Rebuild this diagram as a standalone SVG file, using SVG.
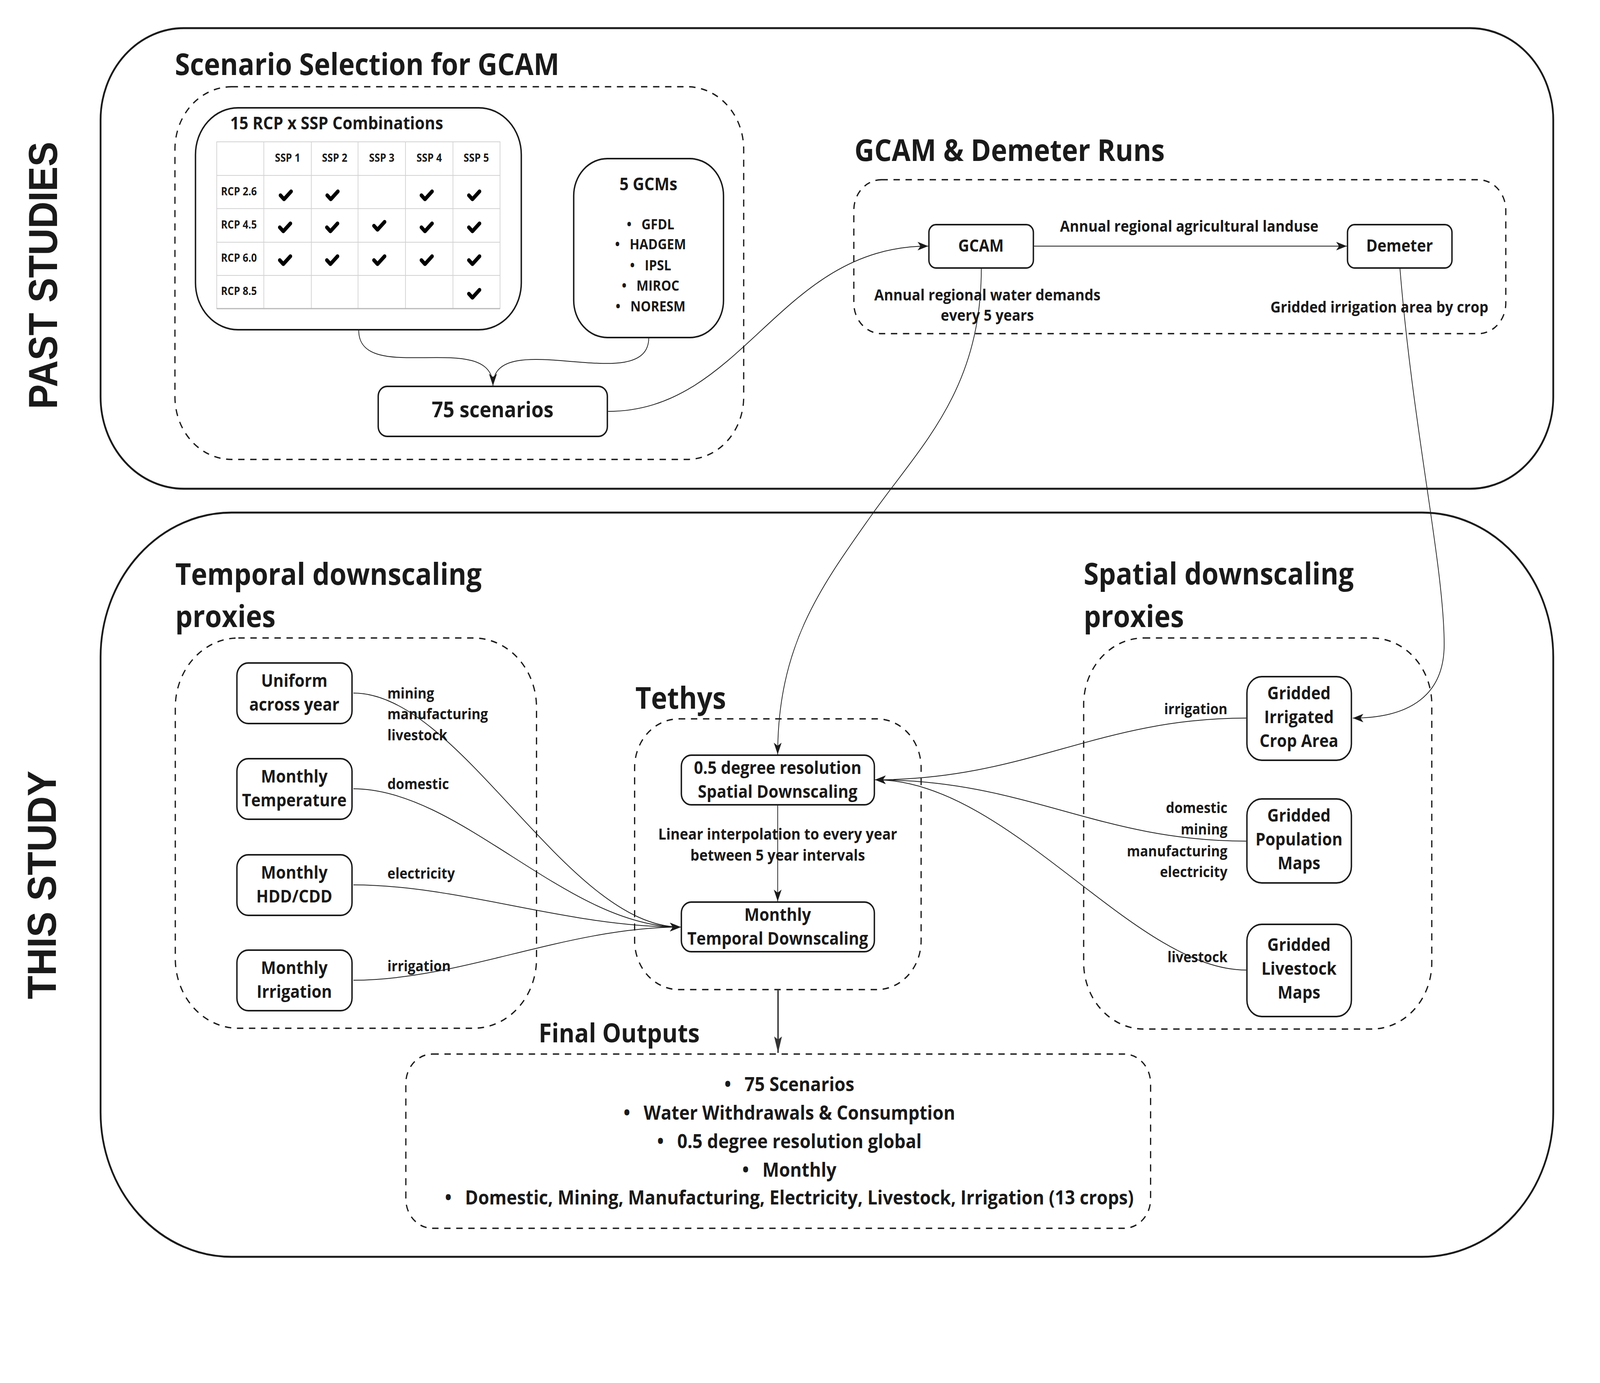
<svg xmlns="http://www.w3.org/2000/svg" xmlns:xlink="http://www.w3.org/1999/xlink" width="4518" height="3540" viewBox="0 0 4518 3540" preserveAspectRatio="none" style="max-width:100%">
<style>
.t{font-family:'Open Sans','Liberation Sans',sans-serif;font-weight:700;fill:#1a1a1a}
.title{font-size:77px}
.node{font-size:45px;text-anchor:middle}
.lbl{font-size:38px}
.elbl{font-size:40px;text-anchor:middle}
.hdr{font-size:28px;text-anchor:middle}
.rl{font-size:28px}
.fo{font-size:50px;text-anchor:middle}
.gcm{font-size:36px;text-anchor:middle}
.side{font-family:'Liberation Sans',Arial,sans-serif;font-weight:700;font-size:114px;text-anchor:middle;fill:#1a1a1a}
.outer{fill:none;stroke:#1a1a1a;stroke-width:5}
.dash{fill:none;stroke:#1a1a1a;stroke-width:3.5;stroke-dasharray:18 16}
.box{fill:#fff;stroke:#1a1a1a;stroke-width:4}
.grid{stroke:#d2d2d2;stroke-width:2;fill:none}
.conn{fill:none;stroke:#1a1a1a;stroke-width:2}
.chk{fill:none;stroke:#000;stroke-width:10;stroke-linecap:round;stroke-linejoin:round}
</style>
<defs>
<marker id="arr" markerUnits="userSpaceOnUse" markerWidth="32" markerHeight="24" refX="30" refY="12" orient="auto">
<path d="M0,1 L30,12 L0,23 L8,12 Z" fill="#1a1a1a"/>
</marker>
<marker id="arrB" markerUnits="userSpaceOnUse" markerWidth="24" markerHeight="44" refX="12" refY="42" orient="0">
<path d="M1,0 L12,42 L23,0 L12,8 Z" fill="#333"/>
</marker>
<path id="ck" class="chk" d="M-10,-10 L0,0 L20,-20"/>
</defs>
<rect width="4518" height="3540" fill="#fff"/>

<g id="past-studies">
<rect class="outer" x="284" y="72" width="4102" height="1179" rx="235"/>
<text class="side" transform="translate(161,705) rotate(-90)" textLength="684" lengthAdjust="spacingAndGlyphs">PAST STUDIES</text>
</g>
<g id="this-study">
<rect class="outer" x="284" y="1312" width="4102" height="1905" rx="370"/>
<text class="side" transform="translate(158,2265) rotate(-90)" textLength="585" lengthAdjust="spacingAndGlyphs">THIS STUDY</text>
</g>

<g id="scenario-selection">
<text class="t title" x="494" y="192">Scenario Selection for GCAM</text>
<rect class="dash" x="494" y="222" width="1606" height="954" rx="160"/>
</g>

<g id="rcp-ssp-table">
<rect class="box" x="552" y="276" width="920" height="568" rx="120"/>
<text class="t" x="650" y="331" font-size="45">15 RCP x SSP Combinations</text>
<rect x="612" y="363" width="800" height="427" fill="#fff"/>
<path class="grid" d="M612,363 H1412 V790 H612 Z M745,363 V790 M879,363 V790 M1011,363 V790 M1145,363 V790 M1279,363 V790 M612,449 H1412 M612,534 H1412 M612,620 H1412 M612,705 H1412"/>
<path d="M612,790 H1412" stroke="#b8b8b8" stroke-width="3"/>
<text class="t hdr" x="812" y="414">SSP 1</text>
<text class="t hdr" x="945" y="414">SSP 2</text>
<text class="t hdr" x="1078" y="414">SSP 3</text>
<text class="t hdr" x="1212" y="414">SSP 4</text>
<text class="t hdr" x="1345" y="414">SSP 5</text>
<text class="t rl" x="624" y="500">RCP 2.6</text>
<text class="t rl" x="624" y="585">RCP 4.5</text>
<text class="t rl" x="624" y="670">RCP 6.0</text>
<text class="t rl" x="624" y="755">RCP 8.5</text>
<use xlink:href="#ck" x="802" y="510"/>
<use xlink:href="#ck" x="934" y="510"/>
<use xlink:href="#ck" x="1200" y="510"/>
<use xlink:href="#ck" x="1334" y="510"/>
<use xlink:href="#ck" x="800" y="592"/>
<use xlink:href="#ck" x="933" y="592"/>
<use xlink:href="#ck" x="1066" y="588"/>
<use xlink:href="#ck" x="1200" y="592"/>
<use xlink:href="#ck" x="1334" y="592"/>
<use xlink:href="#ck" x="800" y="676"/>
<use xlink:href="#ck" x="933" y="676"/>
<use xlink:href="#ck" x="1066" y="676"/>
<use xlink:href="#ck" x="1200" y="676"/>
<use xlink:href="#ck" x="1334" y="676"/>
<use xlink:href="#ck" x="1334" y="762"/>
</g>

<g id="gcms">
<rect class="box" x="1620" y="406" width="423" height="458" rx="95"/>
<text class="t node" x="1831" y="487">5 GCMs</text>
<text class="t gcm" x="1837" y="587"><tspan>•</tspan><tspan dx="28">GFDL</tspan></text>
<text class="t gcm" x="1837" y="638"><tspan>•</tspan><tspan dx="28">HADGEM</tspan></text>
<text class="t gcm" x="1837" y="692"><tspan>•</tspan><tspan dx="28">IPSL</tspan></text>
<text class="t gcm" x="1837" y="744"><tspan>•</tspan><tspan dx="28">MIROC</tspan></text>
<text class="t gcm" x="1837" y="797"><tspan>•</tspan><tspan dx="28">NORESM</tspan></text>
</g>

<g id="scenarios-75">
<rect class="box" x="1068" y="989" width="647" height="128" rx="25"/>
<text class="t" x="1391" y="1068" font-size="56" text-anchor="middle">75 scenarios</text>
</g>

<g id="gcam-demeter-runs">
<text class="t title" x="2413" y="412">GCAM &amp; Demeter Runs</text>
<rect class="dash" x="2411" y="460" width="1841" height="394" rx="78"/>
</g>
<g id="gcam">
<rect class="box" x="2623" y="575" width="295" height="111" rx="20"/>
<text class="t" x="2770" y="644" font-size="43" text-anchor="middle">GCAM</text>
</g>
<g id="demeter">
<rect class="box" x="3805" y="575" width="295" height="111" rx="20"/>
<text class="t" x="3952" y="644" font-size="43" text-anchor="middle">Demeter</text>
</g>

<g id="temporal-proxies">
<text class="t title" x="495" y="1497">Temporal downscaling</text>
<text class="t title" x="495" y="1605">proxies</text>
<rect class="dash" x="495" y="1633" width="1020" height="999" rx="178"/>
</g>
<g id="uniform">
<rect class="box" x="669" y="1697" width="325" height="155" rx="32"/>
<text class="t node" x="831" y="1758">Uniform</text>
<text class="t node" x="831" y="1819">across year</text>
</g>
<g id="monthly-temperature">
<rect class="box" x="669" y="1942" width="325" height="155" rx="32"/>
<text class="t node" x="831" y="2003">Monthly</text>
<text class="t node" x="831" y="2064">Temperature</text>
</g>
<g id="monthly-hdd-cdd">
<rect class="box" x="669" y="2188" width="325" height="155" rx="32"/>
<text class="t node" x="831" y="2249">Monthly</text>
<text class="t node" x="831" y="2310">HDD/CDD</text>
</g>
<g id="monthly-irrigation">
<rect class="box" x="669" y="2432" width="325" height="155" rx="32"/>
<text class="t node" x="831" y="2493">Monthly</text>
<text class="t node" x="831" y="2554">Irrigation</text>
</g>

<g id="tethys">
<text class="t title" x="1794" y="1814">Tethys</text>
<rect class="dash" x="1792" y="1840" width="809" height="693" rx="125"/>
</g>
<g id="spatial-downscaling">
<rect class="box" x="1924" y="1933" width="545" height="127" rx="28"/>
<text class="t node" x="2196" y="1981">0.5 degree resolution</text>
<text class="t node" x="2196" y="2042">Spatial Downscaling</text>
</g>
<g id="temporal-downscaling">
<rect class="box" x="1924" y="2309" width="545" height="127" rx="28"/>
<text class="t node" x="2196" y="2357">Monthly</text>
<text class="t node" x="2196" y="2418">Temporal Downscaling</text>
</g>

<g id="spatial-proxies">
<text class="t title" x="3060" y="1496">Spatial downscaling</text>
<text class="t title" x="3060" y="1605">proxies</text>
<rect class="dash" x="3060" y="1633" width="983" height="1001" rx="170"/>
</g>
<g id="gridded-irrigated">
<rect class="box" x="3521" y="1732" width="295" height="214" rx="42"/>
<text class="t node" x="3668" y="1790">Gridded</text>
<text class="t node" x="3668" y="1851">Irrigated</text>
<text class="t node" x="3668" y="1912">Crop Area</text>
</g>
<g id="gridded-population">
<rect class="box" x="3521" y="2045" width="295" height="215" rx="42"/>
<text class="t node" x="3668" y="2103">Gridded</text>
<text class="t node" x="3668" y="2164">Population</text>
<text class="t node" x="3668" y="2225">Maps</text>
</g>
<g id="gridded-livestock">
<rect class="box" x="3521" y="2366" width="295" height="236" rx="42"/>
<text class="t node" x="3668" y="2434">Gridded</text>
<text class="t node" x="3668" y="2495">Livestock</text>
<text class="t node" x="3668" y="2556">Maps</text>
</g>

<g id="final-outputs">
<text class="t" x="1521" y="2668" font-size="67">Final Outputs</text>
<rect class="dash" x="1146" y="2698" width="2103" height="446" rx="75"/>
<text class="t fo" x="2229" y="2793"><tspan>•</tspan><tspan dx="38">75 Scenarios</tspan></text>
<text class="t fo" x="2229" y="2866"><tspan>•</tspan><tspan dx="38">Water Withdrawals &amp; Consumption</tspan></text>
<text class="t fo" x="2229" y="2939"><tspan>•</tspan><tspan dx="38">0.5 degree resolution global</tspan></text>
<text class="t fo" x="2229" y="3012"><tspan>•</tspan><tspan dx="38">Monthly</tspan></text>
<text class="t fo" x="2229" y="3083"><tspan>•</tspan><tspan dx="38">Domestic, Mining, Manufacturing, Electricity, Livestock, Irrigation (13 crops)</tspan></text>
</g>

<g id="connectors">
<path class="conn" d="M1013,846 C1013,990 1392,840 1392,987" marker-end="url(#arr)"/>
<path class="conn" d="M1832,864 C1832,1020 1392,830 1392,987" marker-end="url(#arr)"/>
<path class="conn" d="M1717,1053 C2100,1053 2200,630 2621,630" marker-end="url(#arr)"/>
<path class="conn" d="M2920,630 L3803,630" marker-end="url(#arr)"/>
<path class="conn" d="M2771,686 C2771,1000 2600,1140 2460,1320 C2320,1500 2196,1650 2196,1931" marker-end="url(#arr)"/>
<path class="conn" d="M3953,686 C3990,1100 4078,1450 4078,1650 C4078,1780 3980,1838 3820,1838" marker-end="url(#arr)"/>
<path class="conn" d="M2196,2062 L2196,2307" marker-end="url(#arr)"/>
<path class="conn" d="M998,1774 C1300,1774 1600,2373 1922,2373" marker-end="url(#arr)"/>
<path class="conn" d="M998,2019 C1300,2019 1600,2373 1922,2373" marker-end="url(#arr)"/>
<path class="conn" d="M998,2265 C1300,2265 1600,2373 1922,2373" marker-end="url(#arr)"/>
<path class="conn" d="M998,2509 C1300,2509 1600,2373 1922,2373" marker-end="url(#arr)"/>
<path class="conn" d="M3519,1838 C3100,1838 2900,1996 2471,1996" marker-end="url(#arr)"/>
<path class="conn" d="M3519,2153 C3100,2153 2900,1996 2471,1996" marker-end="url(#arr)"/>
<path class="conn" d="M3519,2483 C3200,2483 2850,1996 2471,1996" marker-end="url(#arr)"/>
<path d="M2197,2535 L2197,2695" fill="none" stroke="#333" stroke-width="4" marker-end="url(#arrB)"/>
</g>

<g id="connector-labels">
<text class="t elbl" x="3358" y="593">Annual regional agricultural landuse</text>
<text class="t elbl" x="2788" y="769">Annual regional water demands</text>
<text class="t elbl" x="2788" y="821">every 5 years</text>
<text class="t elbl" x="3895" y="800">Gridded irrigation area by crop</text>
<text class="t elbl" x="2196" y="2149">Linear interpolation to every year</text>
<text class="t elbl" x="2196" y="2203">between 5 year intervals</text>
<text class="t lbl" x="1094" y="1788">mining</text>
<text class="t lbl" x="1094" y="1841">manufacturing</text>
<text class="t lbl" x="1094" y="1895">livestock</text>
<text class="t lbl" x="1094" y="2020">domestic</text>
<text class="t lbl" x="1094" y="2249">electricity</text>
<text class="t lbl" x="1094" y="2486">irrigation</text>
<text class="t lbl" x="3466" y="1828" text-anchor="end">irrigation</text>
<text class="t lbl" x="3466" y="2081" text-anchor="end">domestic</text>
<text class="t lbl" x="3466" y="2136" text-anchor="end">mining</text>
<text class="t lbl" x="3466" y="2192" text-anchor="end">manufacturing</text>
<text class="t lbl" x="3466" y="2245" text-anchor="end">electricity</text>
<text class="t lbl" x="3466" y="2463" text-anchor="end">livestock</text>
</g>
</svg>
